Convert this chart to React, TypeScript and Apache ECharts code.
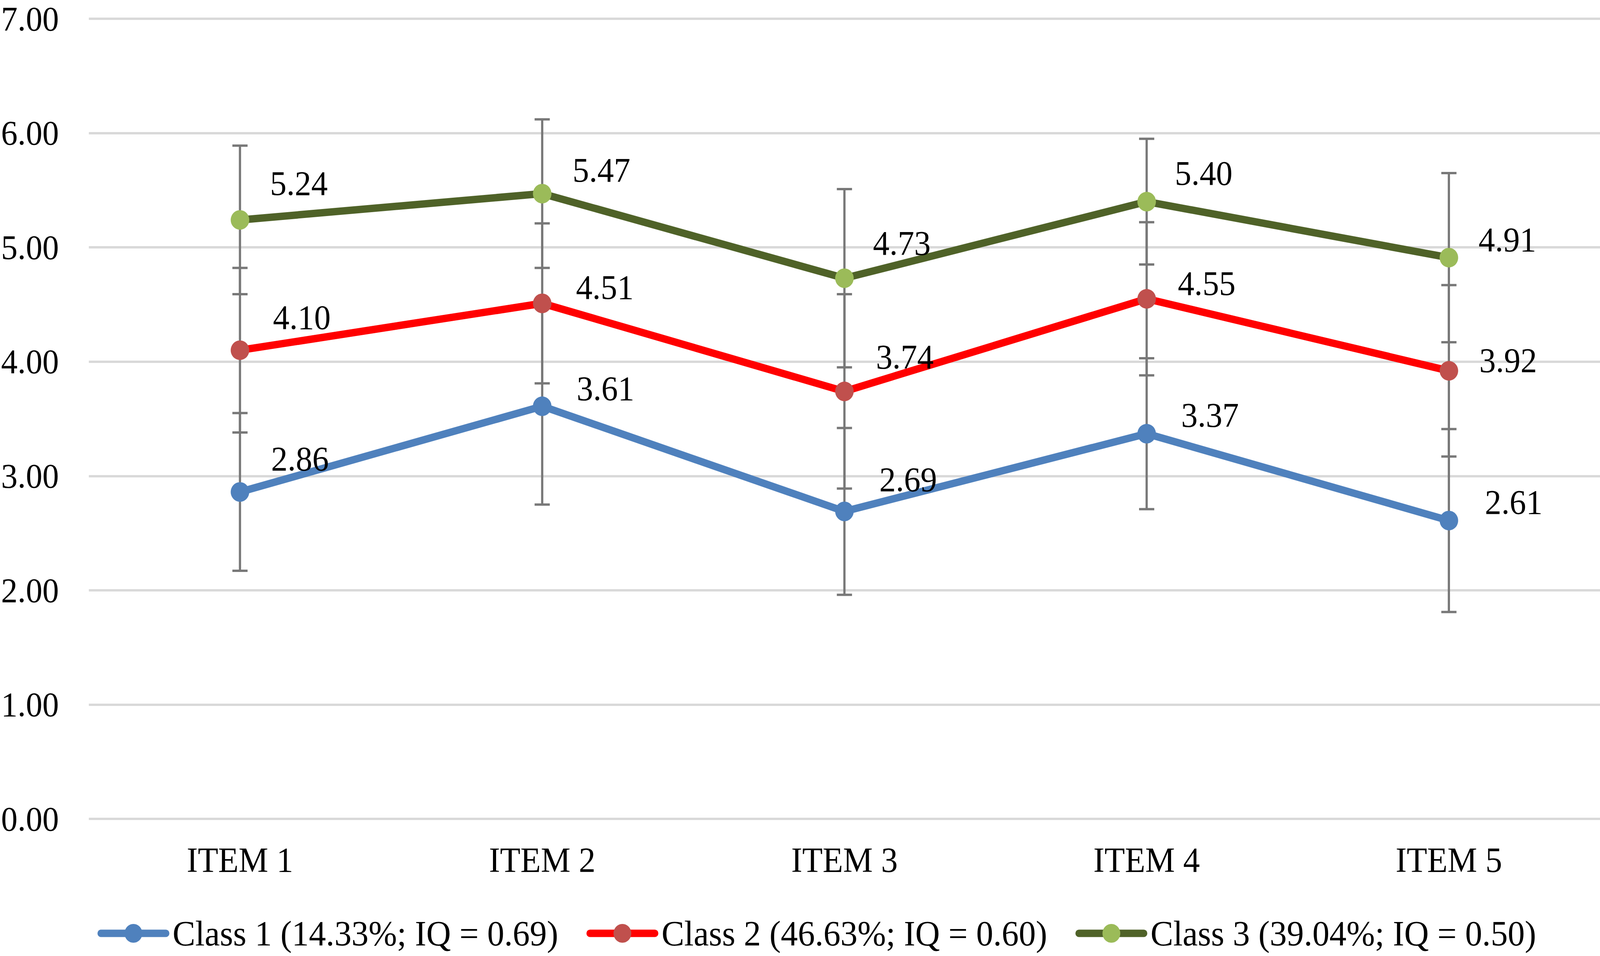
import React, { useEffect, useRef } from "react";
import * as echarts from "echarts";

const categories = ["ITEM 1", "ITEM 2", "ITEM 3", "ITEM 4", "ITEM 5"];
const seriesNames = [
  "Class 1 (14.33%; IQ = 0.69)",
  "Class 2 (46.63%; IQ = 0.60)",
  "Class 3 (39.04%; IQ = 0.50)",
];
const class1Values = [2.86, 3.61, 2.69, 3.37, 2.61];
const class2Values = [4.1, 4.51, 3.74, 4.55, 3.92];
const class3Values = [5.24, 5.47, 4.73, 5.4, 4.91];
const class1Errors = [0.69, 0.86, 0.73, 0.66, 0.8];
const class2Errors = [0.72, 0.7, 0.85, 0.67, 0.75];
const class3Errors = [0.65, 0.65, 0.78, 0.55, 0.74];
const yMin = 0;
const yMax = 7;
const yStep = 1;

// label placement tweaks (pixels), layout only
const class1LabelShift = [[4, -85], [13, -46], [14, -82], [13, -48], [17, -47]];
const class2LabelShift = [[9, -84], [11, -41], [5, -89], [4, -40], [2, -27]];
const class3LabelShift = [[1, -94], [2, -60], [-3, -90], [-4, -73], [0, -46]];

const FONT = "'Liberation Serif', 'Times New Roman', serif";
const W = 4317;
const H = 2447;

export default function App() {
  const ref = useRef<HTMLDivElement>(null);
  const sx = typeof window !== "undefined" && window.innerWidth ? window.innerWidth / W : 1;
  const sy = typeof window !== "undefined" && window.innerHeight ? window.innerHeight / H : 1;

  useEffect(() => {
    if (!ref.current) return;
    const chart = echarts.init(ref.current, null, { renderer: "svg" });

    const defs = [
      { name: seriesNames[0], values: class1Values, errors: class1Errors, shift: class1LabelShift, line: "#4f81bd", marker: "#4f81bd" },
      { name: seriesNames[1], values: class2Values, errors: class2Errors, shift: class2LabelShift, line: "#ff0000", marker: "#c0504d" },
      { name: seriesNames[2], values: class3Values, errors: class3Errors, shift: class3LabelShift, line: "#4f6228", marker: "#9bbb59" },
    ];

    const errorData: number[][] = [];
    defs.forEach((d) => {
      d.values.forEach((v, i) => {
        errorData.push([i, v - d.errors[i], v + d.errors[i]]);
      });
    });

    const lineSeries = defs.map((d) => ({
      type: "line",
      name: d.name,
      z: 3,
      data: d.values.map((v, i) => ({
        value: v,
        label: { offset: d.shift[i] },
      })),
      symbol: "circle",
      symbolSize: 50,
      lineStyle: { color: d.line, width: 19, cap: "round" },
      itemStyle: { color: d.marker, borderWidth: 0 },
      label: {
        show: true,
        position: "right",
        distance: 55,
        fontSize: 89,
        fontFamily: FONT,
        color: "#000",
        formatter: (p: any) => Number(p.value).toFixed(2),
      },
    }));

    const option: any = {
      animation: false,
      backgroundColor: "#ffffff",
      textStyle: { fontFamily: FONT },
      grid: { left: 238, right: 0, top: 48, bottom: 351, containLabel: false },
      legend: {
        data: seriesNames,
        left: 258,
        top: 2338,
        itemWidth: 175,
        itemHeight: 60,
        itemGap: 76,
        lineStyle: { width: 19, cap: "round" },
        textStyle: {
          fontSize: 92,
          fontFamily: FONT,
          color: "#000",
          lineHeight: 60,
          padding: [0, 0, 0, 13],
        },
      },
      xAxis: {
        type: "category",
        data: categories,
        boundaryGap: true,
        axisLine: { show: false },
        axisTick: { show: false },
        axisLabel: { fontSize: 90, fontFamily: FONT, color: "#000", margin: 61 },
      },
      yAxis: {
        type: "value",
        min: yMin,
        max: yMax,
        interval: yStep,
        axisLine: { show: false },
        axisTick: { show: false },
        axisLabel: {
          fontSize: 89,
          fontFamily: FONT,
          color: "#000",
          margin: 81,
          formatter: (v: number) => v.toFixed(2),
        },
        splitLine: { lineStyle: { color: "#d9d9d9", width: 6 } },
      },
      series: [
        {
          type: "custom",
          name: "errors",
          z: 1,
          data: errorData,
          encode: { x: 0, y: [1, 2] },
          renderItem: (_params: any, api: any) => {
            const x = api.value(0);
            const lo = api.coord([x, api.value(1)]);
            const hi = api.coord([x, api.value(2)]);
            const hw = 20.5;
            const style = { stroke: "#787878", lineWidth: 6 };
            return {
              type: "group",
              children: [
                { type: "line", shape: { x1: lo[0], y1: lo[1], x2: hi[0], y2: hi[1] }, style },
                { type: "line", shape: { x1: lo[0] - hw, y1: lo[1], x2: lo[0] + hw, y2: lo[1] }, style },
                { type: "line", shape: { x1: hi[0] - hw, y1: hi[1], x2: hi[0] + hw, y2: hi[1] }, style },
              ],
            };
          },
        },
        ...lineSeries,
      ],
    };

    chart.setOption(option);
    return () => chart.dispose();
  }, []);

  return (
    <div
      ref={ref}
      style={{
        position: "absolute",
        left: 0,
        top: 0,
        width: W + "px",
        height: H + "px",
        background: "#fff",
        transform: `scale(${sx}, ${sy})`,
        transformOrigin: "0 0",
      }}
    />
  );
}
